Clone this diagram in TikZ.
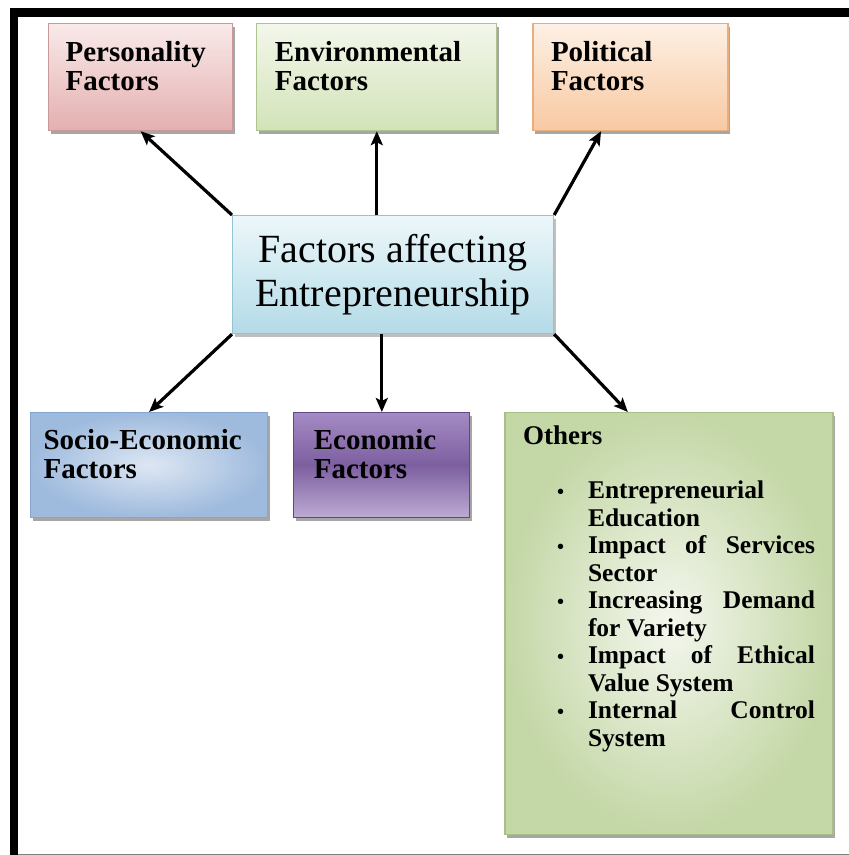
\documentclass[tikz,border=0pt]{standalone}
\usepackage{fontspec}
\setmainfont{Liberation Serif}
\usetikzlibrary{positioning,arrows.meta,shadows,calc}

\definecolor{persline}{HTML}{C99999}
\definecolor{perstop}{HTML}{F9EAEA}
\definecolor{persbot}{HTML}{E4AFAF}
\definecolor{envline}{HTML}{ADC48E}
\definecolor{envtop}{HTML}{F3F7EB}
\definecolor{envbot}{HTML}{D2E3B8}
\definecolor{polline}{HTML}{E8AE80}
\definecolor{poltop}{HTML}{FDF0E4}
\definecolor{polbot}{HTML}{F8C9A2}
\definecolor{ctrline}{HTML}{93C4D3}
\definecolor{ctrtop}{HTML}{EDF7FA}
\definecolor{ctrbot}{HTML}{B3DBE7}
\definecolor{socline}{HTML}{86A5CF}
\definecolor{socin}{HTML}{DDE7F3}
\definecolor{socout}{HTML}{9EBADD}
\definecolor{ecoline}{HTML}{5E4880}
\definecolor{ecotop}{HTML}{A48BC4}
\definecolor{ecomid}{HTML}{7D5FA0}
\definecolor{ecobot}{HTML}{BCABD3}
\definecolor{othline}{HTML}{A8BF88}
\definecolor{othin}{HTML}{F4F7EE}
\definecolor{othout}{HTML}{C4D7A6}

% text block pinned to the top left corner of a box
\newcommand{\boxtext}[3]{\parbox[c][#2][t]{#1}{\raggedright #3}}

\tikzset{
	factor/.style={rectangle, draw=#1line, line width=1.2pt, anchor=north west,
		inner xsep=17pt, inner ysep=18pt,
		font=\fontsize{29}{29}\selectfont\bfseries,
		drop shadow={shadow xshift=2pt, shadow yshift=-3pt, fill=black, opacity=0.35}},
	link/.style={line width=3.2pt, -{Stealth[length=14pt, width=12pt, inset=3pt]}},
}

\begin{document}
\begin{tikzpicture}[
		x=1pt, y=-1pt,
		node distance=25pt,
	]
		\useasboundingbox (0,0) rectangle (849,855);
		\fill (10,8) rectangle (849,17);
		\fill (10,8) rectangle (18,855);
		\draw [gray, line width=1pt] (18,854) -- (849,854);

		\node [factor=pers, top color=perstop, bottom color=persbot] (pers) at (48,23)
			{\boxtext{150pt}{71pt}{Personality\\Factors}};
		\node [factor=env, inner xsep=18pt, top color=envtop, bottom color=envbot, right=23pt of pers] (env)
			{\boxtext{204pt}{71pt}{Environmental\\Factors}};
		\node [factor=pol, inner xsep=18pt, top color=poltop, bottom color=polbot, right=35pt of env] (pol)
			{\boxtext{159pt}{71pt}{Political\\Factors}};

		\node [rectangle, draw=ctrline, line width=1.2pt, anchor=north west, top color=ctrtop, bottom color=ctrbot,
			minimum width=321pt, minimum height=118pt, align=center, font=\fontsize{40}{44}\selectfont,
			drop shadow={shadow xshift=2pt, shadow yshift=-3pt, fill=black, opacity=0.25}] (ctr) at (232,215)
			{Factors affecting\\Entrepreneurship};

		\node [factor=soc, inner xsep=13pt, inner ysep=17pt, shading=radial, inner color=socin, outer color=socout] (soc) at (30,412)
			{\boxtext{211pt}{71pt}{\mbox{Socio-Economic}\\Factors}};
		\node [factor=eco, inner xsep=20pt, inner ysep=17pt, top color=ecotop, bottom color=ecobot, middle color=ecomid, right=25pt of soc] (eco)
			{\boxtext{136pt}{71pt}{Economic\\Factors}};
		\node [factor=oth, inner xsep=18pt, inner ysep=13pt, shading=radial, inner color=othin, outer color=othout,
			font=\bfseries, right=34pt of eco.north east, anchor=north west] (oth)
			{\parbox[c][396pt][t]{292pt}{%
				{\fontsize{27}{30}\selectfont Others\par}
				\fontsize{25.5}{27.5}\selectfont
				\hyphenpenalty=10000 \emergencystretch=60pt
				\begin{list}{{\fontsize{20}{20}\selectfont\textbullet}}{\setlength{\leftmargin}{65pt}\setlength{\labelwidth}{10pt}%
					\setlength{\labelsep}{24pt}\setlength{\itemsep}{0pt}\setlength{\parsep}{0pt}%
					\setlength{\topsep}{27pt}\setlength{\partopsep}{0pt}}
				\item Entrepreneurial Education
				\item Impact of Services Sector
				\item Increasing Demand for Variety
				\item Impact of Ethical Value System
				\item Internal Control System
				\end{list}}};

		\draw [link] (ctr.north west) -- (pers.south);
		\draw [link] (env.south |- ctr.north) -- (env.south);
		\draw [link] (ctr.north east) -- ($(pol.south west)!0.35!(pol.south east)$);
		\draw [link] (ctr.south west) -- (soc.north);
		\draw [link] (eco.north |- ctr.south) -- (eco.north);
		\draw [link] (ctr.south east) -- ($(oth.north west)!0.375!(oth.north east)$);
	\end{tikzpicture}
\end{document}
